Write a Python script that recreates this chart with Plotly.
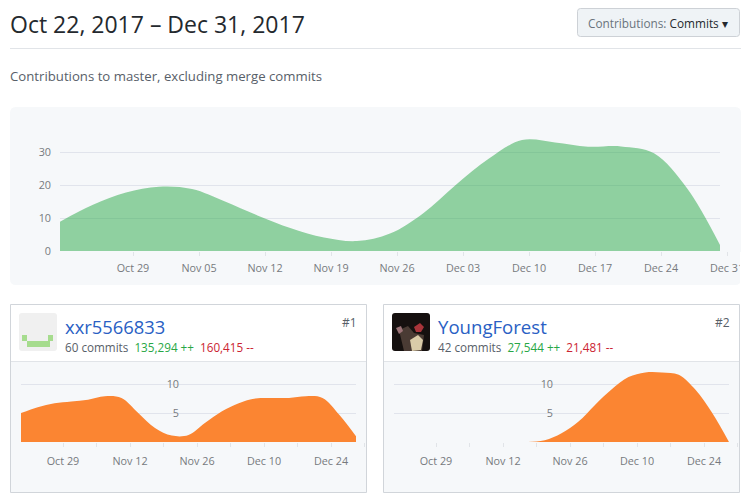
""" Contributors page: commits over time, overall and per author
"""
import plotly.graph_objects as go

W, H = 752, 500

# half-week samples, Oct 22 to Dec 31
weeks = [i / 2 for i in range(21)]
total_commits = [8.9, 14, 17.7, 19.5, 18.8, 15, 10.7, 6.9, 4.1, 3, 5.3,
                 11.4, 20.1, 28, 33.6, 32.9, 31.6, 31.7, 29.6, 19, 1.8]
xxr_commits = [5, 6, 6.7, 7, 7.3, 7.9, 7.6, 5, 2.4, 1.1, 1.2,
               3.3, 5.3, 6.7, 7.5, 7.6, 7.6, 7.9, 7.6, 4.7, 1]
young_commits = [0, 0, 0, 0, 0, 0, 0, 0, 0, 0.3, 1.5,
                 3.5, 6.4, 9.1, 11.2, 12, 12, 11.6, 9, 5, 0]

main_ticks = ['Oct 29', 'Nov 05', 'Nov 12', 'Nov 19', 'Nov 26',
              'Dec 03', 'Dec 10', 'Dec 17', 'Dec 24', 'Dec 31']
card_ticks = ['Oct 29', '', 'Nov 12', '', 'Nov 26', '', 'Dec 10', '', 'Dec 24', '']

TICK_COLOR = '#777a7e'
GRID_COLOR = '#e1e4ec'
FONT = 'Open Sans'


def fx(px):
    return px / W


def fy(px):
    return 1 - px / H


fig = go.Figure()
shapes = []
annotations = []


def add_box(x0, y0, x1, y1, fill, line=None, layer='below', r=0):
    border = dict(color=line or fill, width=1 if line else 0)
    if r:
        pts = [(x0 + r, y0), (x1 - r, y0), (x1, y0), (x1, y0 + r), (x1, y1 - r), (x1, y1),
               (x1 - r, y1), (x0 + r, y1), (x0, y1), (x0, y1 - r), (x0, y0 + r), (x0, y0), (x0 + r, y0)]
        p = [f'{fx(a):.5f},{fy(b):.5f}' for a, b in pts]
        path = (f'M{p[0]} L{p[1]} Q{p[2]} {p[3]} L{p[4]} Q{p[5]} {p[6]} '
                f'L{p[7]} Q{p[8]} {p[9]} L{p[10]} Q{p[11]} {p[12]} Z')
        shapes.append(dict(type='path', xref='paper', yref='paper', path=path,
                           fillcolor=fill, layer=layer, line=border))
    else:
        shapes.append(dict(type='rect', xref='paper', yref='paper', x0=fx(x0), x1=fx(x1),
                           y0=fy(y1), y1=fy(y0), fillcolor=fill, layer=layer, line=border))


def add_poly(points, fill):
    path = 'M' + ' L'.join(f'{fx(a):.5f},{fy(b):.5f}' for a, b in points) + ' Z'
    shapes.append(dict(type='path', xref='paper', yref='paper', path=path, fillcolor=fill,
                       layer='below', line=dict(width=0)))


def add_text(x, y, text, size, color, anchor='left'):
    annotations.append(dict(xref='paper', yref='paper', x=fx(x), y=fy(y), text=text,
                            showarrow=False, xanchor=anchor, yanchor='middle',
                            font=dict(family=FONT, size=size, color=color)))


def add_chart(n, x0, x1, y_zero, y_top, y_max, values, color, ticks, tick_first,
              y_ticks, y_text, label_gap, y_label_x=None, y_standoff=0):
    # ticks run past the data, so they get a wider axis pair of their own
    xa, ya, xt, yt = f'xaxis{n * 2 - 1}', f'yaxis{n * 2 - 1}', f'xaxis{n * 2}', f'yaxis{n * 2}'
    xid, yid, tid, tyid = f'x{n * 2 - 1}', f'y{n * 2 - 1}', f'x{n * 2}', f'y{n * 2}'
    fig.add_trace(go.Scatter(x=weeks, y=values, mode='lines', fill='tozeroy', fillcolor=color,
                             line=dict(color=color, width=0, shape='spline', smoothing=1.0),
                             xaxis=xid, yaxis=yid, showlegend=False, hoverinfo='skip'))
    fig.add_trace(go.Scatter(x=[0], y=[0], mode='none', xaxis=tid, yaxis=tyid,
                             showlegend=False, hoverinfo='skip'))
    week_px = (x1 - x0) / 10
    tick_vals = [(tick_first - x0) / week_px + i for i in range(len(ticks))]
    fig.update_layout({
        xa: dict(domain=[fx(x0), fx(x1)], range=[0, 10], visible=False, anchor=yid),
        xt: dict(domain=[fx(x0), fx(x1 + 20)], range=[0, (x1 + 20 - x0) / week_px], anchor=tyid,
                 tickmode='array', tickvals=tick_vals, ticktext=ticks, ticks='outside',
                 ticklen=4, tickcolor='#e1e4e8', showgrid=False, showline=False, zeroline=False,
                 ticklabelstandoff=label_gap,
                 tickfont=dict(family=FONT, size=10.8, color=TICK_COLOR)),
        yt: dict(domain=[fy(y_zero), fy(y_top)], range=[0, y_max], visible=False, anchor=tid),
        ya: dict(domain=[fy(y_zero), fy(y_top)], range=[0, y_max], tickmode='array',
                 tickvals=y_ticks, ticktext=y_text, gridcolor=GRID_COLOR, gridwidth=1,
                 zeroline=False, showline=False, ticks='', ticklabelstandoff=y_standoff,
                 tickfont=dict(family=FONT, size=10.8, color=TICK_COLOR)),
    })
    if y_label_x is not None:
        fig.layout[ya].update(anchor='free', position=fx(y_label_x))
    else:
        fig.layout[ya].update(anchor=xid)


# page furniture
add_text(8, 24, 'Oct 22, 2017 – Dec 31, 2017', 23, '#24292e')
add_box(10, 48, 741, 49, '#e1e4e8')
add_box(577.5, 8.5, 739.5, 36.5, '#eff3f6', '#cdd1d6', r=3)
add_text(586, 23, '<span style="color:#6a737d">Contributions:</span> Commits ▾', 11.8, '#24292e')
add_text(8, 76, 'Contributions to master, excluding merge commits', 13.2, '#586069')
add_box(10, 107, 741, 285, '#f6f8fa', r=6)

# author cards
for cx0, cx1 in [(10.5, 366.5), (383.5, 739.5)]:
    add_box(cx0, 304.5, cx1, 492.5, '#ffffff', '#d1d5da')
    add_box(cx0 + 0.5, 361, cx1 - 0.5, 492, '#f6f8fa')
    add_box(cx0 + 0.5, 361, cx1 - 0.5, 362, '#e1e4e8')

# identicon
add_box(19, 313, 57, 351, '#f0f0f0', r=3)
add_box(22, 335, 27, 341, '#a6dc8e')
add_box(48, 335, 53, 341, '#a6dc8e')
add_box(27, 341, 50, 347, '#a6dc8e')

# avatar, roughly
add_box(392, 313, 430, 351, '#15100f', r=3)
add_poly([(399, 330), (408, 326), (414, 333), (424, 335), (422, 351), (404, 351)], '#4a3b34')
add_poly([(410, 340), (418, 335), (423, 340), (421, 350), (412, 351)], '#d9cba8')
add_poly([(414, 327), (420, 323), (424, 327), (421, 332), (416, 332)], '#a8343a')
add_poly([(396, 328), (401, 326), (403, 331), (399, 334)], '#9c7478')

add_text(63, 326, 'xxr5566833', 18.4, '#2a5fc4')
add_text(63, 347, '60 commits  <span style="color:#28a745">135,294 ++</span>  '
                  '<span style="color:#cb2431">160,415 --</span>', 11.7, '#586069')
add_text(359, 322, '#1', 12, '#586069', 'right')
add_text(436, 326, 'YoungForest', 18.6, '#2a5fc4')
add_text(436, 347, '42 commits  <span style="color:#28a745">27,544 ++</span>  '
                   '<span style="color:#cb2431">21,481 --</span>', 11.7, '#586069')
add_text(732, 322, '#2', 12, '#586069', 'right')

add_chart(1, 60, 720, 251, 119, 40, total_commits, 'rgba(40,167,69,0.5)', main_ticks, 133,
          [0, 10, 20, 30], ['0', '10', '20', '30'], 3, y_standoff=8)
add_chart(2, 21, 356, 442, 366.6, 13, xxr_commits, '#fb8532', card_ticks, 63,
          [0, 5, 10], ['', '5', '10'], 5, y_label_x=179)
add_chart(3, 394, 729, 442, 366.6, 13, young_commits, '#fb8532', card_ticks, 436,
          [0, 5, 10], ['', '5', '10'], 5, y_label_x=553)

# the last main tick label is cut at the panel edge
add_box(740, 252, 752, 285, '#ffffff', layer='above')

fig.update_layout(width=W, height=H, margin=dict(l=0, r=0, t=0, b=0, autoexpand=False),
                  paper_bgcolor='#ffffff', plot_bgcolor='rgba(0,0,0,0)',
                  shapes=shapes, annotations=annotations, showlegend=False)
fig.write_html('out.html', config={'displayModeBar': False},
               post_script="document.body.style.margin='0';")
